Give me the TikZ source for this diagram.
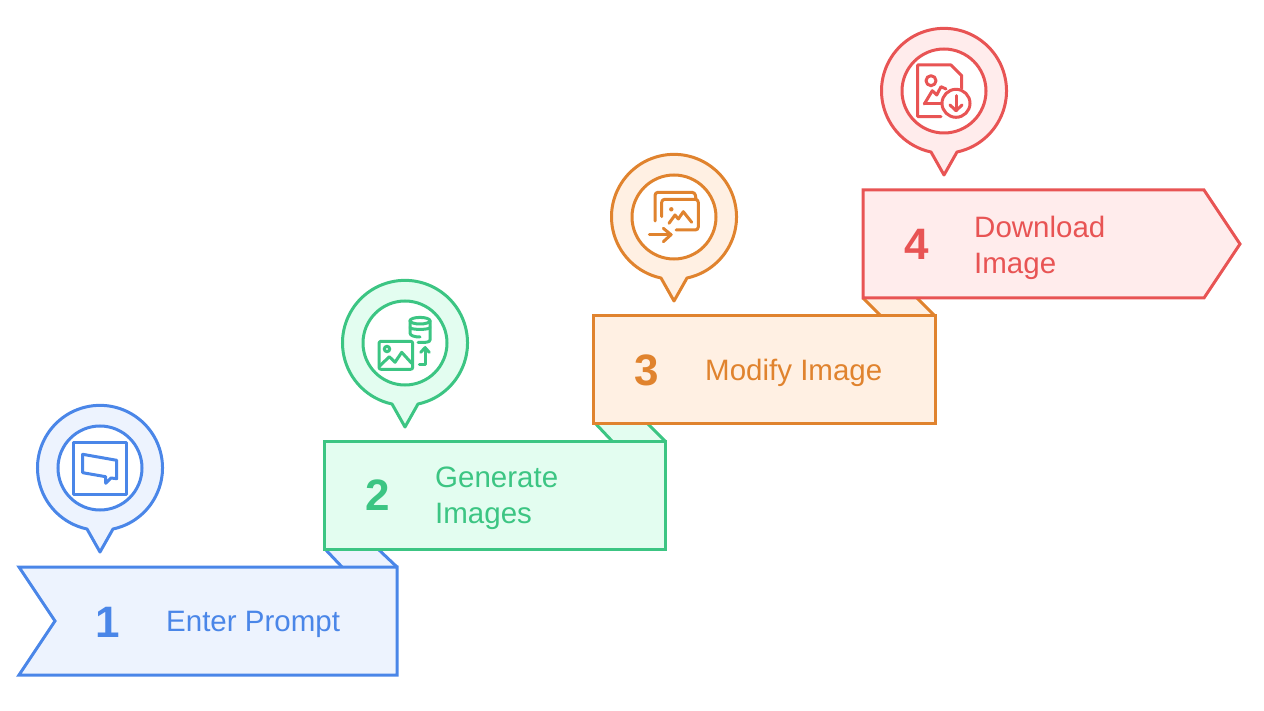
\documentclass[tikz,border=0pt]{standalone}
\usepackage{fontspec}
\setmainfont{Liberation Sans}
\definecolor{bluedark}{HTML}{4A86E8}
\definecolor{bluelight}{HTML}{EDF3FE}
\definecolor{greendark}{HTML}{3CC583}
\definecolor{greenlight}{HTML}{E3FDF0}
\definecolor{orangedark}{HTML}{E0832E}
\definecolor{orangelight}{HTML}{FFF0E3}
\definecolor{reddark}{HTML}{E85454}
\definecolor{redlight}{HTML}{FFECEC}
\tikzset{
  bluepart/.style={draw=bluedark,fill=bluelight,text=bluedark},
  greenpart/.style={draw=greendark,fill=greenlight,text=greendark},
  orangepart/.style={draw=orangedark,fill=orangelight,text=orangedark},
  redpart/.style={draw=reddark,fill=redlight,text=reddark},
  outline/.style={line width=3pt,line join=miter},
  glyph/.style={line width=3pt,line cap=round,line join=round},
  numlabel/.style={anchor=center,inner sep=0pt,font=\fontsize{44}{50}\selectfont\bfseries},
  steplabel/.style={anchor=west,inner sep=0pt,align=left,font=\fontsize{29.5}{36}\selectfont},
}
% pin with inner disc, around the origin of the current scope
\newcommand{\pinmark}[2]{%
  \draw[outline,line join=round,draw=#1,fill=#2] (0,-84) -- (13,-61) arc (-78:258:62.5) -- cycle;%
  \draw[outline,draw=#1,fill=white] (0,0) circle (42);%
}
\begin{document}
\begin{tikzpicture}[x=1pt,y=1pt]
  \useasboundingbox (0,-711) rectangle (1264,0);

  % Drawing folds
  \fill[bluelight] (325,-549) -- (378,-549) -- (397,-567) -- (342,-567) -- cycle;
  \draw[outline,bluedark] (325,-549) -- (342,-567);
  \draw[outline,bluedark] (378,-549) -- (397,-567);
  \fill[greenlight] (595,-423) -- (647,-423) -- (665,-441) -- (612,-441) -- cycle;
  \draw[outline,greendark] (595,-423) -- (612,-441);
  \draw[outline,greendark] (647,-423) -- (665,-441);
  \fill[orangelight] (863,-298) -- (917,-298) -- (935,-316) -- (881,-316) -- cycle;
  \draw[outline,orangedark] (863,-298) -- (881,-316);
  \draw[outline,orangedark] (917,-298) -- (935,-316);

  % Drawing banners
  \draw[outline,bluepart] (19,-567) -- (397,-567) -- (397,-675) -- (19,-675) -- (55,-621) -- cycle;
  \draw[outline,greenpart] (324,-441) rectangle (665,-549);
  \draw[outline,orangepart] (593,-316) rectangle (935,-423);
  \draw[outline,redpart] (863,-190) -- (1204,-190) -- (1240,-244) -- (1204,-298) -- (863,-298) -- cycle;

  % Labels of step 1
  \node (num1) [numlabel,text=bluedark] at (108,-622) {1};
  \node (text1) [steplabel,text=bluedark] at (166,-624.5) {Enter Prompt};

  % Labels of step 2
  \node (num2) [numlabel,text=greendark] at (378,-495) {2};
  \node (text2) [steplabel,text=greendark] at (435,-498.5) {Generate\\Images};

  % Labels of step 3
  \node (num3) [numlabel,text=orangedark] at (647,-370) {3};
  \node (text3) [steplabel,text=orangedark] at (705,-372.5) {Modify Image};

  % Labels of step 4
  \node (num4) [numlabel,text=reddark] at (917,-244) {4};
  \node (text4) [steplabel,text=reddark] at (974,-247.5) {Download\\Image};

  % Pin 1 and its icon
  \begin{scope}[shift={(100,-468)}]
    \pinmark{bluedark}{bluelight}
    \begin{scope}[yscale=-1,glyph,bluedark]
      \draw (-26.5,-26) rectangle (26,26);
      \draw (-17.3,-13.7) -- (16.7,-7.7) -- (16.7,10.7) -- (11,10) -- (5.7,15.3) -- (5.7,8.7) -- (-17.3,4.7) -- cycle;
    \end{scope}
  \end{scope}

  % Pin 2 and its icon
  \begin{scope}[shift={(405,-343)}]
    \pinmark{greendark}{greenlight}
    \begin{scope}[yscale=-1,glyph,greendark]
      \draw[rounded corners=2pt] (-26,-1.7) rectangle (7.7,26.3);
      \draw (-18,6) circle (2.7);
      \draw (-25,22.7) -- (-15.7,13.7) -- (-10,19.3) -- (-3.3,9.3) -- (6.7,20.3);
      \draw (15,-22.3) ellipse (10 and 3.3);
      \draw (5,-22.3) -- (5,-10) .. controls (5,-7.5) and (9,-6) .. (15,-6);
      \draw (25,-22.3) -- (25,-3) .. controls (25,-0.5) and (20,-0.5) .. (13,-0.5);
      \draw (5,-15.5) .. controls (5,-13) and (25,-13) .. (25,-15.5);
      \draw (14.3,21) -- (20,21) -- (20,4.7);
      \draw (15.7,9.3) -- (20,4.7) -- (24.3,9.3);
    \end{scope}
  \end{scope}

  % Pin 3 and its icon
  \begin{scope}[shift={(674,-217)}]
    \pinmark{orangedark}{orangelight}
    \begin{scope}[yscale=-1,glyph,orangedark]
      \draw[rounded corners=3pt] (-19,4) -- (-19,-24.7) -- (21,-24.7) -- (22,-17.7);
      \draw[rounded corners=3pt] (-12.3,-0.3) -- (-12.3,-17.7) -- (24.3,-17.7) -- (24.3,13) -- (2,13);
      \fill (-2.7,-7.7) circle (2.2);
      \draw (-5,6.3) -- (1,-2) -- (4.3,2) -- (9.3,-5.3) -- (17.7,5.3);
      \draw (-24.7,17.7) -- (-3,17.7);
      \draw (-10.7,11.3) -- (-3,17.7) -- (-10.7,24.7);
    \end{scope}
  \end{scope}

  % Pin 4 and its icon
  \begin{scope}[shift={(944,-91)}]
    \pinmark{reddark}{redlight}
    \begin{scope}[yscale=-1,glyph,reddark]
      \draw (-3,25.7) -- (-26.3,25.7) -- (-26.3,-26) -- (7,-26) -- (17.7,-15.3) -- (17.7,-2.7);
      \draw (-13,-10.3) circle (5);
      \draw (-19.7,13) -- (-11.7,-0.3) -- (-7.3,4) -- (-3,-4.3) -- (2,-2);
      \draw (-19.7,13) -- (-3,13);
      \draw (12,12.3) circle (14);
      \draw (12,4.7) -- (12,19.7);
      \draw (6,14) -- (12,19.7) -- (18,14);
    \end{scope}
  \end{scope}
\end{tikzpicture}
\end{document}
